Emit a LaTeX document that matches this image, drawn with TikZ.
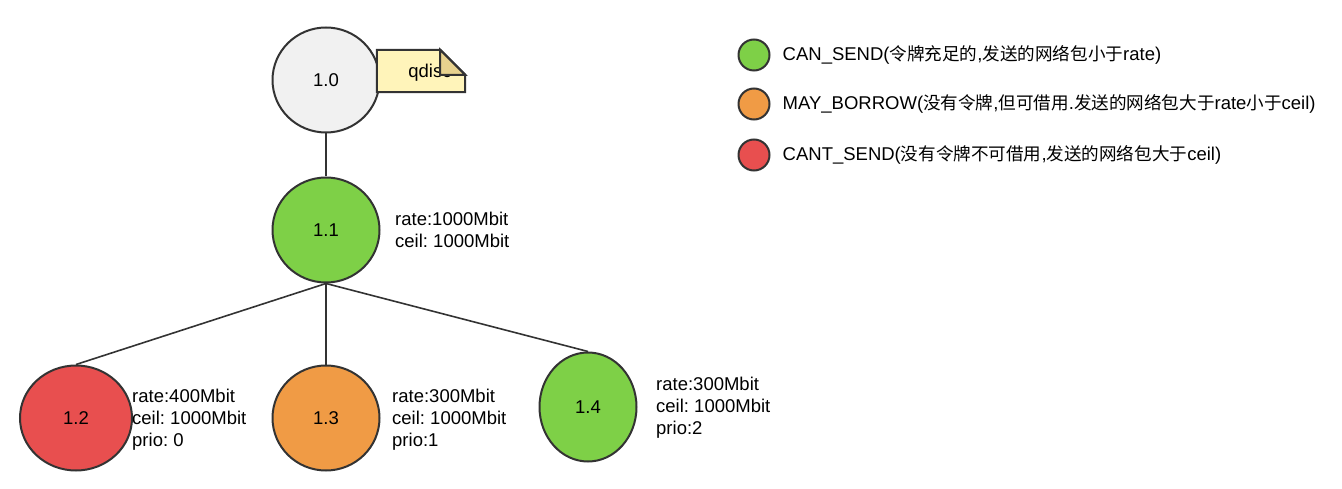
\documentclass[tikz,border=0pt]{standalone}
\usepackage{fontspec}
\setmainfont{Liberation Sans}
\newfontfamily\cjk[Scale=0.95]{Noto Sans CJK SC}
\usepackage{tikz}
\usetikzlibrary{shapes.geometric,calc}

\definecolor{sendgreen}{HTML}{7ED047}
\definecolor{borroworange}{HTML}{F09B45}
\definecolor{cantred}{HTML}{E84F4F}
\definecolor{rootgray}{HTML}{F1F1F1}
\definecolor{noteyellow}{HTML}{FFF4BA}
\definecolor{notefold}{HTML}{E8D28E}
\definecolor{edgec}{HTML}{333333}

\newcommand{\zh}[1]{{\cjk #1}}
\frenchspacing

\begin{document}
\begin{tikzpicture}[x=1pt,y=-1pt,
    font=\fontsize{18.5}{22}\selectfont,
    cls/.style={ellipse,draw=edgec,line width=2pt,minimum width=107pt,minimum height=105pt,inner sep=0pt},
    legdot/.style={circle,draw=edgec,line width=2pt,minimum size=31pt,inner sep=0pt},
    info/.style={anchor=west,align=left,inner sep=0pt},
    link/.style={draw=edgec,line width=1.6pt}]
    \useasboundingbox (0,0) rectangle (1342,489);

    % Classes
    \node[cls,fill=rootgray] (c10) at (326,80) {1.0};
    \node[cls,fill=sendgreen] (c11) at (326,230) {1.1};
    \node[cls,fill=cantred,minimum width=112pt] (c12) at (76,418) {1.2};
    \node[cls,fill=borroworange] (c13) at (326,418) {1.3};
    \node[cls,fill=sendgreen,minimum width=97pt,minimum height=109pt] (c14) at (588,407) {1.4};

    % Tree edges
    \draw[link] (c10.south) -- (c11.north);
    \draw[link] (c11.south) -- (c12.north);
    \draw[link] (c11.south) -- (c13.north);
    \draw[link] (c11.south) -- (c14.north);

    % qdisc note
    \node[minimum width=88pt,minimum height=42pt,inner sep=0pt] (qdisc) at (421,71) {};
    \filldraw[fill=noteyellow,draw=edgec,line width=2pt]
        (qdisc.north west) -- ($(qdisc.north east)+(-25,0)$) -- ($(qdisc.north east)+(0,25)$)
        -- (qdisc.south east) -- (qdisc.south west) -- cycle;
    \node at ($(qdisc.center)+(9,2)$) {qdisc};
    \filldraw[fill=notefold,draw=edgec,line width=2pt]
        ($(qdisc.north east)+(-25,0)$) -- ($(qdisc.north east)+(-25,25)$) -- ($(qdisc.north east)+(0,25)$) -- cycle;

    % Class parameters
    \node[info] (p11) at (395,230) {rate:1000Mbit\\ceil: 1000Mbit};
    \node[info] (p12) at (132,420) {rate:400Mbit\\ceil: 1000Mbit\\prio: 0};
    \node[info] (p13) at (392,420) {rate:300Mbit\\ceil: 1000Mbit\\prio:1};
    \node[info] (p14) at (656,408) {rate:300Mbit\\ceil: 1000Mbit\\prio:2};

    % Legend
    \node[legdot,fill=sendgreen] (l1) at (754,55) {};
    \node[legdot,fill=borroworange] (l2) at (754,104) {};
    \node[legdot,fill=cantred] (l3) at (754,155) {};
    \node[info] at ($(l1.east)+(12,0)$) {CAN\_SEND(\zh{令牌充足的},\zh{发送的网络包小于}rate)};
    \node[info] at ($(l2.east)+(12,0)$) {MAY\_BORROW(\zh{没有令牌},\zh{但可借用}.\zh{发送的网络包大于}rate\zh{小于}ceil)};
    \node[info] at ($(l3.east)+(12,0)$) {CANT\_SEND(\zh{没有令牌不可借用},\zh{发送的网络包大于}ceil)};

\end{tikzpicture}
\end{document}
